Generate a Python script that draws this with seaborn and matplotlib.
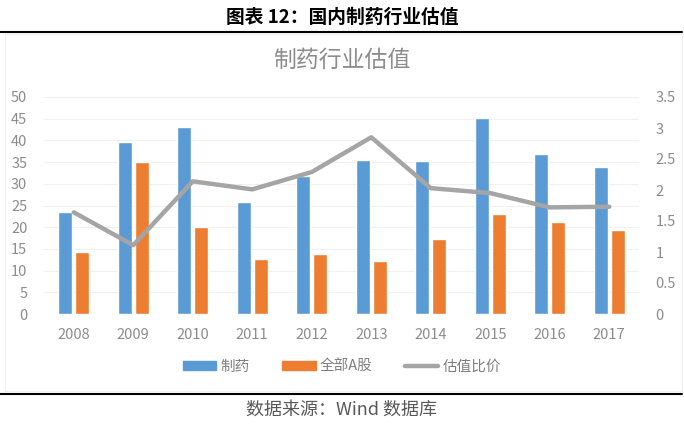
import matplotlib.pyplot as plt
import seaborn as sns
import pandas as pd
from matplotlib.patches import Patch, Rectangle
from matplotlib.lines import Line2D

years = ['2008', '2009', '2010', '2011', '2012', '2013', '2014', '2015', '2016', '2017']
pharma = [23.5, 39.6, 43.0, 25.8, 31.8, 35.4, 35.2, 45.1, 36.8, 33.8]
all_a = [14.3, 35.0, 20.0, 12.7, 13.8, 12.2, 17.3, 23.0, 21.2, 19.3]
ratio = [1.64, 1.11, 2.14, 2.01, 2.29, 2.85, 2.03, 1.95, 1.72, 1.73]

names = ['制药', '全部A股', '估值比价']
blue, orange, grey = '#5B9BD5', '#ED7D31', '#A5A5A5'
tick_grey = '#8C8C8C'

sns.set_style('white')
plt.rcParams['font.family'] = ['Noto Sans CJK SC', 'DejaVu Sans']

bars = pd.DataFrame({
    'year': years * 2,
    'pe': pharma + all_a,
    'series': [names[0]] * len(years) + [names[1]] * len(years),
})

fig = plt.figure(figsize=(6.84, 4.26), dpi=100)
ax = fig.add_axes([44 / 684, 1 - 314 / 426, 595 / 684, 217 / 426])

sns.barplot(data=bars, x='year', y='pe', hue='series', order=years,
            hue_order=names[:2], palette=[blue, orange], width=0.58, gap=0.19,
            saturation=1, legend=False, ax=ax)
ax.set_xlim(-0.5, len(years) - 0.5)
ax.set_ylim(0, 50)
ax.set_yticks(range(0, 51, 5))
ax.set(xlabel='', ylabel='')
ax.grid(axis='y', color='#F0F0F0', linewidth=0.8)
ax.set_axisbelow(True)
for s in ax.spines.values():
    s.set_visible(False)
ax.tick_params(axis='both', length=0, colors=tick_grey, labelsize=10.5)
ax.tick_params(axis='x', pad=10)
ax.tick_params(axis='y', pad=12)

ax2 = ax.twinx()
sns.lineplot(x=years, y=ratio, color=grey, linewidth=3.2, sort=False, ax=ax2)
ax2.set_ylim(0, 3.5)
ax2.set_yticks([0, 0.5, 1, 1.5, 2, 2.5, 3, 3.5])
ax2.set_yticklabels(['0', '0.5', '1', '1.5', '2', '2.5', '3', '3.5'])
ax2.set(xlabel='', ylabel='')
for s in ax2.spines.values():
    s.set_visible(False)
ax2.tick_params(axis='y', length=0, colors=tick_grey, labelsize=10.5, pad=12)
ax2.grid(False)

handles = [Patch(color=blue), Patch(color=orange), Line2D([], [], color=grey, linewidth=3.2)]
fig.legend(handles, names, loc='center', bbox_to_anchor=(0.5, 1 - 367 / 426), ncol=3,
           frameon=False, fontsize=10.5, labelcolor='#7F7F7F', handlelength=2.3,
           handleheight=0.6, handletextpad=0.3, columnspacing=2.2)

fig.text(0.5, 1 - 60 / 426, '制药行业估值', ha='center', va='center',
         fontsize=16.5, color='#8C8C8C')
fig.text(0.5, 1 - 17 / 426, '图表 12：国内制药行业估值', ha='center', va='center',
         fontsize=13.5, fontweight='bold', color='black')
fig.text(0.5, 1 - 410 / 426, '数据来源：Wind 数据库', ha='center', va='center',
         fontsize=13, color='#595959')

fig.add_artist(Line2D([0, 682 / 684], [1 - 32 / 426] * 2, color='black', linewidth=1.5,
                      transform=fig.transFigure))
fig.add_artist(Line2D([0, 682 / 684], [1 - 394 / 426] * 2, color='black', linewidth=1.5,
                      transform=fig.transFigure))
fig.add_artist(Rectangle((5 / 684, 1 - 391 / 426), 677 / 684, 357 / 426, fill=False,
                         edgecolor='#F0F0F0', linewidth=0.8, transform=fig.transFigure))

fig.savefig('out.png', dpi=100)
